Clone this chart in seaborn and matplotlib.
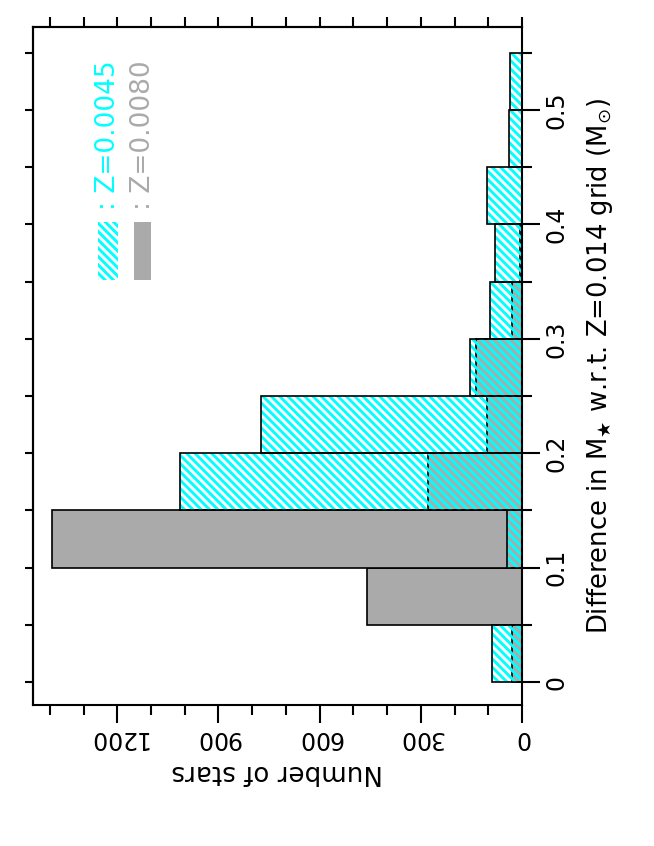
import numpy as np
import pandas as pd
import matplotlib
matplotlib.use("Agg")
import matplotlib.pyplot as plt
import seaborn as sns
from matplotlib.patches import Rectangle
from matplotlib.ticker import MultipleLocator

# ---- data ----
bin_edges = [0.00, 0.05, 0.10, 0.15, 0.20, 0.25, 0.30, 0.35, 0.40, 0.45, 0.50, 0.55]
counts_z0045 = [90, 0, 45, 1015, 775, 155, 95, 80, 105, 40, 35]
counts_z0080 = [30, 460, 1395, 280, 105, 135, 30, 7, 0, 0, 0]
count_ticks = [0, 300, 600, 900, 1200]
count_tick_labels = ["0", "300", "600", "900", "1200"]
mass_ticks = [0.0, 0.1, 0.2, 0.3, 0.4, 0.5]
mass_tick_labels = ["0", "0.1", "0.2", "0.3", "0.4", "0.5"]
legend_labels = [": Z=0.0045", ": Z=0.0080"]
xlabel = "Number of stars"
ylabel = r"Difference in M$_{\bigstar}$ w.r.t. Z=0.014 grid (M$_{\odot}$)"

CYAN = "#00ffff"
GRAY = "#aaaaaa"
HATCH = "\\" * 4

sns.set_style("ticks")
plt.rcParams["font.family"] = ["DejaVu Sans"]
plt.rcParams["hatch.linewidth"] = 2.1
plt.rcParams["axes.linewidth"] = 1.5
for k in ["text.color", "axes.labelcolor", "xtick.color", "ytick.color", "axes.edgecolor"]:
    plt.rcParams[k] = "black"

centers = [(a + b) / 2 for a, b in zip(bin_edges[:-1], bin_edges[1:])]
df = pd.DataFrame({"mass": centers, "z0045": counts_z0045, "z0080": counts_z0080})

W, H = 654, 846
fig = plt.figure(figsize=(W / 100, H / 100), dpi=100)
ax_l, ax_r, ax_t, ax_b = 33, 522, 27, 705
ax = fig.add_axes([ax_l / W, (H - ax_b) / H, (ax_r - ax_l) / W, (ax_b - ax_t) / H])

# gray filled histogram
sns.histplot(data=df, y="mass", weights="z0080", bins=bin_edges, fill=True,
             color=GRAY, alpha=1, edgecolor="black", linewidth=1.2, ax=ax)
# cyan hatched histogram (hatch only)
sns.histplot(data=df, y="mass", weights="z0045", bins=bin_edges, fill=False,
             color=CYAN, hatch=HATCH, linewidth=0, ax=ax)
# outline of cyan histogram
sns.histplot(data=df, y="mass", weights="z0045", bins=bin_edges, fill=False,
             color="black", linewidth=1.2, ax=ax)

ax.set_xlim(1450, 0)
ax.set_ylim(-0.02, 0.5725)

for sp in ax.spines.values():
    sp.set_linewidth(1.5)
    sp.set_color("black")

# bottom axis (counts)
ax.set_xticks(count_ticks)
ax.set_xticklabels(count_tick_labels, rotation=180, fontsize=17)
ax.xaxis.set_minor_locator(MultipleLocator(100))
# right axis (mass)
ax.yaxis.tick_right()
ax.set_yticks(mass_ticks)
ax.set_yticklabels(mass_tick_labels, rotation=90, fontsize=17, va="center")
ax.yaxis.set_minor_locator(MultipleLocator(0.05))

ax.tick_params(which="major", direction="out", length=13, width=1.5, color="black")
ax.tick_params(which="minor", direction="out", length=7, width=1.5, color="black")
ax.tick_params(axis="x", which="both", pad=2, bottom=True, top=False)
ax.tick_params(axis="y", which="both", pad=3, right=True, left=False)

# top and left short ticks
secx = ax.secondary_xaxis("top")
secx.set_xticks(np.arange(0, 1500, 100))
secx.tick_params(direction="out", length=7, width=1.5, labeltop=False)
secy = ax.secondary_yaxis("left")
secy.set_yticks(np.arange(0, 0.56, 0.05))
secy.tick_params(direction="out", length=6, width=1.5, labelleft=False)

# axis labels
ax.set_xlabel(xlabel, fontsize=18.8, rotation=180)
ax.xaxis.label.set_va("center")
ax.xaxis.set_label_coords(0.5, -(772 - ax_b) / (ax_b - ax_t))
ax.yaxis.set_label_position("right")
ax.set_ylabel(ylabel, fontsize=18.6, rotation=90)
ax.yaxis.label.set_rotation_mode("default")
ax.yaxis.label.set_va("center")
ax.yaxis.label.set_ha("center")
ax.yaxis.set_label_coords((600 - ax_l) / (ax_r - ax_l), 0.5)

# legend (custom, rotated)
def fx(px):
    return (px - ax_l) / (ax_r - ax_l)

def fy(py):
    return (ax_b - py) / (ax_b - ax_t)

ax.add_patch(Rectangle((fx(98), fy(280)), fx(118) - fx(98), fy(222) - fy(280),
                       transform=ax.transAxes, facecolor="none", edgecolor=CYAN,
                       linewidth=0, hatch=HATCH))
ax.add_patch(Rectangle((fx(134), fy(280)), fx(151) - fx(134), fy(222) - fy(280),
                       transform=ax.transAxes, facecolor=GRAY, edgecolor="none",
                       linewidth=0))
ax.text(fx(108), fy(210), legend_labels[0], rotation=90, color=CYAN, fontsize=19,
        ha="center", va="bottom", transform=ax.transAxes)
ax.text(fx(143), fy(210), legend_labels[1], rotation=90, color=GRAY, fontsize=19,
        ha="center", va="bottom", transform=ax.transAxes)

fig.savefig("out.png", dpi=100)
